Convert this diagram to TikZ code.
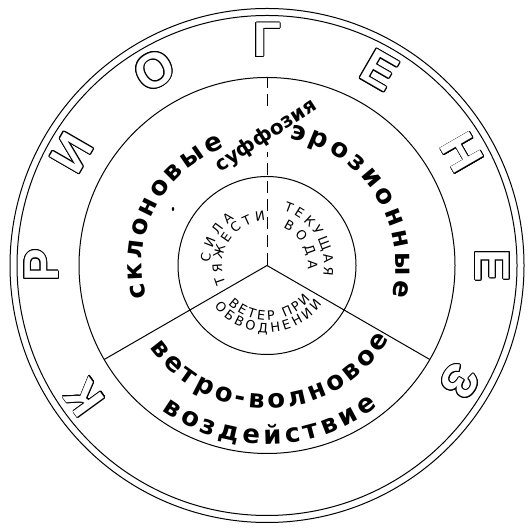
\documentclass[tikz,border=0pt]{standalone}
\usepackage{fontspec}
\setmainfont{DejaVu Sans}
\newfontfamily\outf{Liberation Sans}
\newfontface\heavy{DejaVu Sans Bold}
\newfontfamily\innerf{DejaVu Sans}
\usepackage{contour}
\contourlength{0.9pt}
\usetikzlibrary{decorations.text}
\tikzset{
  ring/.style={line width=1bp},
  divider/.style={line width=1bp},
  dashdiv/.style={line width=1bp, dash pattern=on 12bp off 6bp},
  bigtext/.style={decorate, decoration={text along path, text align=fit to path,
     text={|\heavy\fontsize{26}{26}\selectfont|#1}}},
  smalltext/.style={decorate, decoration={text along path, text align=fit to path,
     text={|\innerf\fontsize{13}{13}\selectfont|#1}}},
  hollow/.style={inner sep=0pt, font=\outf\bfseries\fontsize{49}{49}\selectfont}
}
\begin{document}
\begin{tikzpicture}[x=1bp,y=1bp]
\useasboundingbox (0,0) rectangle (530,530);
\coordinate (C) at (267,264.5);
% circles
\draw[ring] (C) circle[radius=257];
\draw[ring] (C) circle[radius=250];
\draw[ring] (C) circle[radius=188];
\draw[ring] (C) circle[radius=89];
% dividers
\coordinate (S1) at ([shift={(210:188)}]C);
\coordinate (S2) at ([shift={(330:188)}]C);
\coordinate (S3) at ([shift={(90:188)}]C);
\coordinate (D1) at (267,378);
\coordinate (D2) at (267,424);
\draw[divider] (C) -- (S1);
\draw[divider] (C) -- (S2);
\draw[dashdiv] (C) -- (D1);
\draw[dashdiv] (D2) -- (S3);
% outer hollow letters
\foreach \l/\a [count=\i] in {К/216, Р/180, И/150, О/120, Г/90, Е/60, Н/30, Е/0, З/-31}
  \node[hollow, rotate=\a-90] (L\i) at ([shift={(\a:225)}]C) {\contour{black}{\textcolor{white}{\l}}};
% middle ring labels
\path[bigtext={склоновые}] ([shift={(195:125)}]C) arc[start angle=195, end angle=110, radius=125];
\path[bigtext={эрозионные}] ([shift={(80:129)}]C) arc[start angle=80, end angle=-14, radius=129];
\path[bigtext={ветро-волновое}] ([shift={(215:143)}]C) arc[start angle=215, end angle=329, radius=143];
\path[bigtext={воздействие}] ([shift={(234:179)}]C) arc[start angle=234, end angle=308, radius=179];
\node[inner sep=0pt, rotate=33, font=\heavy\fontsize{20}{20}\selectfont] (suf) at (266,394) {суффозия};
\fill (173,321) ellipse[x radius=1.2bp, y radius=2bp];
% inner labels
\path[smalltext={СИЛА}] ([shift={(177:57)}]C) arc[start angle=177, end angle=125, radius=57];
\path[smalltext={ТЯЖЕСТИ}] ([shift={(204:45)}]C) arc[start angle=204, end angle=92, radius=45];
\path[smalltext={ТЕКУЩАЯ}] ([shift={(73:57)}]C) arc[start angle=73, end angle=-10, radius=57];
\path[smalltext={ВОДА}] ([shift={(67:41)}]C) arc[start angle=67, end angle=-6, radius=41];
\path[smalltext={ВЕТЕР ПРИ}] ([shift={(225:55)}]C) arc[start angle=225, end angle=322, radius=55];
\path[smalltext={ОБВОДНЕНИИ}] ([shift={(218:67)}]C) arc[start angle=218, end angle=325, radius=67];
\end{tikzpicture}
\end{document}
